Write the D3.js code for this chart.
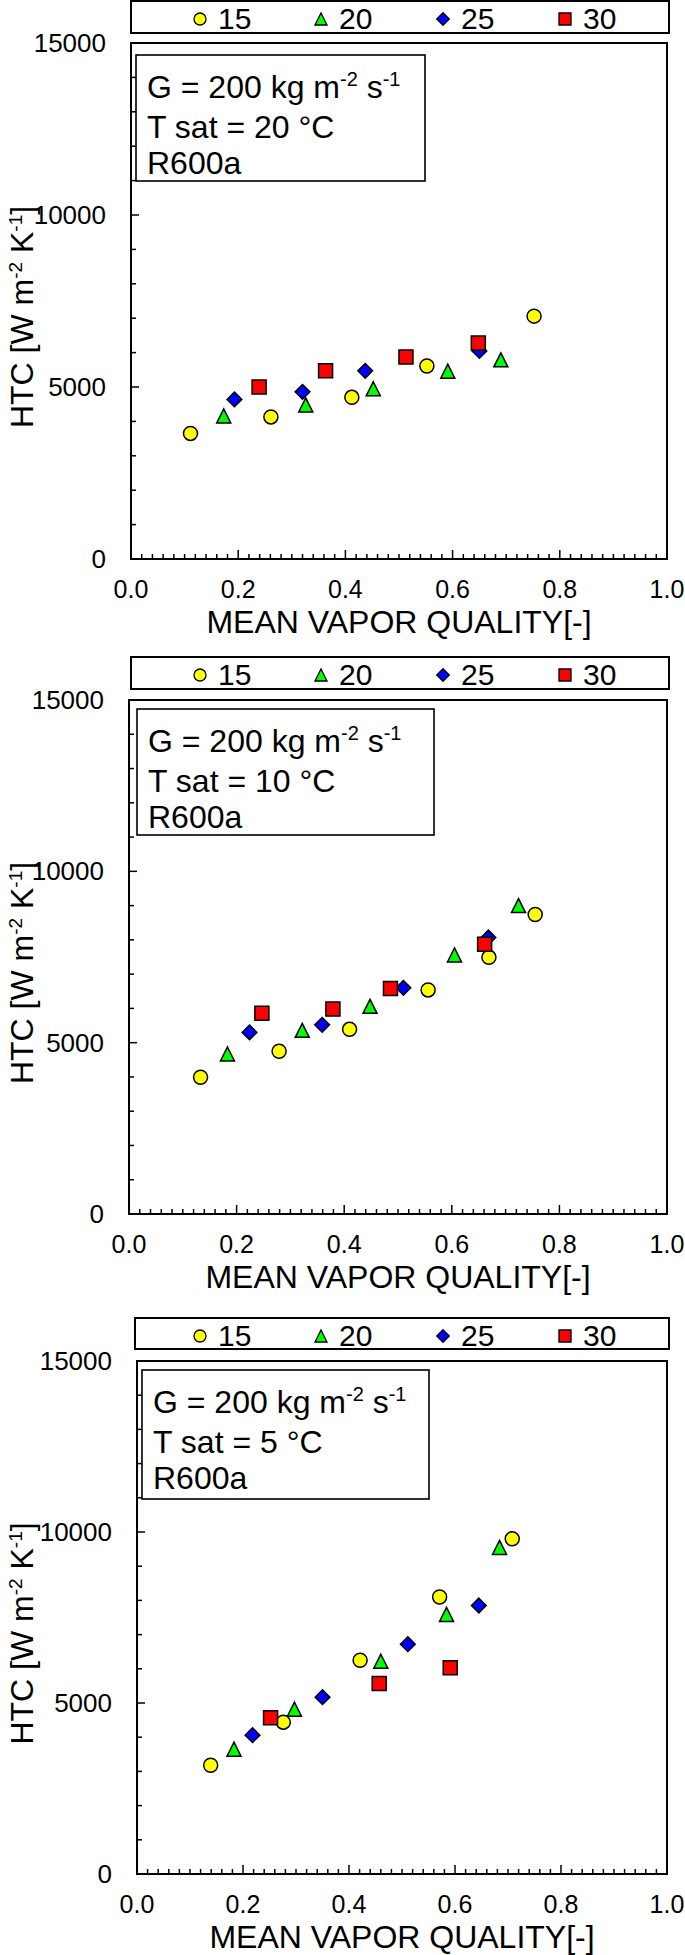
<!DOCTYPE html>
<html>
<head>
<meta charset="utf-8">
<script src="https://cdn.jsdelivr.net/npm/d3@7"></script>
<style>
  html, body { margin: 0; padding: 0; background: #fff; }
  svg { display: block; font-family: "Liberation Sans", Arial, sans-serif; }
</style>
</head>
<body>
<svg id="chart" width="685" height="1955"></svg>
<script>
// ---------------- DATA ----------------
const seriesNames = ["15", "20", "25", "30"];
const xTickLabels = ["0.0", "0.2", "0.4", "0.6", "0.8", "1.0"];
const xTickValues = [0, 0.2, 0.4, 0.6, 0.8, 1.0];
const yTickLabels = ["0", "5000", "10000", "15000"];
const yTickValues = [0, 5000, 10000, 15000];
const panelTsat = ["20", "10", "5"];

// Tsat = 20 °C
const t20_s15 = [[0.111, 3650], [0.261, 4130], [0.412, 4700], [0.552, 5610], [0.752, 7060]];
const t20_s20 = [[0.173, 4160], [0.326, 4480], [0.452, 4950], [0.591, 5460], [0.690, 5790]];
const t20_s25 = [[0.193, 4640], [0.320, 4860], [0.437, 5470], [0.650, 6050]];
const t20_s30 = [[0.239, 5000], [0.363, 5470], [0.513, 5870], [0.648, 6280]];

// Tsat = 10 °C
const t10_s15 = [[0.133, 3990], [0.279, 4750], [0.410, 5390], [0.556, 6540], [0.669, 7490], [0.755, 8740]];
const t10_s20 = [[0.183, 4670], [0.322, 5360], [0.448, 6060], [0.605, 7560], [0.724, 9000]];
const t10_s25 = [[0.224, 5300], [0.359, 5520], [0.510, 6600], [0.668, 8070]];
const t10_s30 = [[0.247, 5860], [0.379, 5980], [0.486, 6580], [0.661, 7870]];

// Tsat = 5 °C
const t5_s15 = [[0.139, 3180], [0.276, 4440], [0.421, 6250], [0.571, 8100], [0.708, 9800]];
const t5_s20 = [[0.183, 3650], [0.297, 4820], [0.460, 6220], [0.584, 7590], [0.684, 9550]];
const t5_s25 = [[0.218, 4060], [0.350, 5170], [0.511, 6720], [0.645, 7850]];
const t5_s30 = [[0.252, 4570], [0.457, 5570], [0.591, 6030]];

const panelData = [
  [t20_s15, t20_s20, t20_s25, t20_s30],
  [t10_s15, t10_s20, t10_s25, t10_s30],
  [t5_s15, t5_s20, t5_s25, t5_s30]
];

// ---------------- STYLE / LAYOUT ----------------
const colors = ["#FFFF00", "#00FF00", "#0000FF", "#FF0000"];
const layouts = [
  {left: 131, right: 667, top: 43, bottom: 559, legL: 131, legR: 669, legT: 1, legB: 33, annL: 136, annR: 425, annT: 55, annB: 181},
  {left: 129, right: 667, top: 700, bottom: 1214, legL: 131, legR: 669, legT: 657, legB: 689, annL: 137, annR: 434, annT: 709, annB: 835},
  {left: 137, right: 667, top: 1361, bottom: 1874, legL: 135, legR: 669, legT: 1318, legB: 1349, annL: 142, annR: 429, annT: 1370, annB: 1499}
];
const legendSymX = [200, 321, 443, 565];

function markerPath(kind, s) {
  const h = s / 2;
  if (kind === 0) { // circle
    return `M${h},0A${h},${h} 0 1,1 ${-h},0A${h},${h} 0 1,1 ${h},0Z`;
  } else if (kind === 1) { // triangle
    return `M0,${-h}L${h},${h}L${-h},${h}Z`;
  } else if (kind === 2) { // diamond
    const d = h * 1.05;
    return `M0,${-d}L${d},0L0,${d}L${-d},0Z`;
  } else { // square
    return `M${-h},${-h}L${h},${-h}L${h},${h}L${-h},${h}Z`;
  }
}

const svg = d3.select("#chart");

layouts.forEach((L, pi) => {
  const g = svg.append("g");
  const x = d3.scaleLinear().domain([0, 1]).range([L.left, L.right]);
  const y = d3.scaleLinear().domain([0, 15000]).range([L.bottom, L.top]);

  // legend box
  g.append("rect")
    .attr("x", L.legL).attr("y", L.legT)
    .attr("width", L.legR - L.legL).attr("height", L.legB - L.legT)
    .attr("fill", "#fff").attr("stroke", "#000").attr("stroke-width", 2);
  seriesNames.forEach((name, si) => {
    const cx = legendSymX[si];
    const cy = L.legT + 18;
    g.append("path")
      .attr("d", markerPath(si, 12))
      .attr("transform", `translate(${cx},${cy})`)
      .attr("fill", colors[si]).attr("stroke", "#000").attr("stroke-width", 1.3);
    g.append("text")
      .attr("x", cx + 18).attr("y", L.legT + 28)
      .attr("font-size", 30).attr("fill", "#000")
      .text(name);
  });

  // plot frame
  g.append("rect")
    .attr("x", L.left).attr("y", L.top)
    .attr("width", L.right - L.left).attr("height", L.bottom - L.top)
    .attr("fill", "#fff").attr("stroke", "#000").attr("stroke-width", 2);

  // y ticks (inside)
  const yMinor = d3.range(0, 15001, 1000);
  g.append("g").selectAll("line").data(yMinor).join("line")
    .attr("x1", L.left).attr("x2", d => L.left + (d % 5000 === 0 ? 8 : 5))
    .attr("y1", d => y(d)).attr("y2", d => y(d))
    .attr("stroke", "#000").attr("stroke-width", 1.5);
  // x ticks (inside)
  const xMinor = d3.range(0, 51).map(i => i / 50);
  g.append("g").selectAll("line").data(xMinor).join("line")
    .attr("x1", d => x(d)).attr("x2", d => x(d))
    .attr("y1", L.bottom).attr("y2", (d, i) => L.bottom - (i % 10 === 0 ? 9 : 5))
    .attr("stroke", "#000").attr("stroke-width", 1.5);

  // y tick labels
  g.append("g").selectAll("text").data(yTickValues).join("text")
    .attr("x", L.left - 25).attr("y", d => y(d) + 9)
    .attr("text-anchor", "end").attr("font-size", 26).attr("fill", "#000")
    .text((d, i) => yTickLabels[i]);
  // x tick labels
  g.append("g").selectAll("text").data(xTickValues).join("text")
    .attr("x", d => x(d)).attr("y", L.bottom + 39)
    .attr("text-anchor", "middle").attr("font-size", 25).attr("fill", "#000")
    .text((d, i) => xTickLabels[i]);

  // x title
  g.append("text")
    .attr("x", (L.left + L.right) / 2).attr("y", L.bottom + 74)
    .attr("text-anchor", "middle").attr("font-size", 32).attr("fill", "#000")
    .text("MEAN VAPOR QUALITY[-]");

  // y title
  const ycx = 33, ycy = (L.top + L.bottom) / 2 + 16;
  const yt = g.append("text")
    .attr("transform", `translate(${ycx},${ycy}) rotate(-90)`)
    .attr("text-anchor", "middle").attr("font-size", 32).attr("fill", "#000");
  yt.append("tspan").text("HTC [W m");
  yt.append("tspan").attr("font-size", 19).attr("dy", -11).text("-2");
  yt.append("tspan").attr("dy", 11).text(" K");
  yt.append("tspan").attr("font-size", 19).attr("dy", -11).text("-1");
  yt.append("tspan").attr("dy", 11).text("]");

  // annotation box
  g.append("rect")
    .attr("x", L.annL).attr("y", L.annT)
    .attr("width", L.annR - L.annL).attr("height", L.annB - L.annT)
    .attr("fill", "#fff").attr("stroke", "#000").attr("stroke-width", 1.6);
  const ax = L.annL + 11;
  const t1 = g.append("text").attr("x", ax).attr("y", L.annT + 43)
    .attr("font-size", 32).attr("fill", "#000");
  t1.append("tspan").text("G = 200 kg m");
  t1.append("tspan").attr("font-size", 20).attr("dy", -12).text("-2");
  t1.append("tspan").attr("dy", 12).text(" s");
  t1.append("tspan").attr("font-size", 20).attr("dy", -12).text("-1");
  g.append("text").attr("x", ax).attr("y", L.annT + 83)
    .attr("font-size", 32).attr("fill", "#000")
    .text(`T sat = ${panelTsat[pi]} °C`);
  g.append("text").attr("x", ax).attr("y", L.annT + 119)
    .attr("font-size", 32).attr("fill", "#000")
    .text("R600a");

  // data markers
  panelData[pi].forEach((pts, si) => {
    g.append("g").selectAll("path").data(pts).join("path")
      .attr("d", markerPath(si, 14))
      .attr("transform", d => `translate(${x(d[0])},${y(d[1])})`)
      .attr("fill", colors[si]).attr("stroke", "#000").attr("stroke-width", 1.5);
  });
});
</script>
</body>
</html>
